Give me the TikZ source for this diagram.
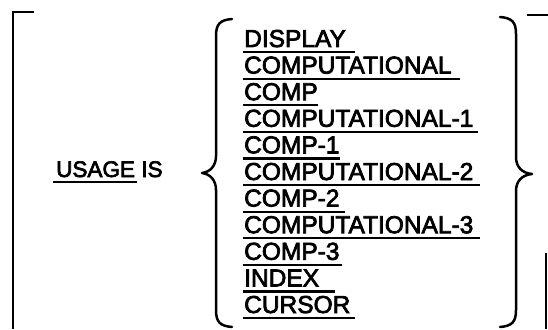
\documentclass[tikz,border=0pt]{standalone}
\usepackage{fontspec}
\newfontfamily\lfont{Liberation Sans}[FakeBold=3]
\begin{document}
\begin{tikzpicture}[x=1pt,y=-1pt,
  item/.style={font=\fontsize{24.5}{24.5}\selectfont\lfont, anchor=base west, inner sep=0pt},
  head/.style={font=\fontsize{22.5}{22.5}\selectfont\lfont, anchor=base west, inner sep=0pt},
  uline/.style={line width=2.2pt},
  bracestyle/.style={line width=2.5pt, line cap=round, line join=round},
  bracketstyle/.style={line width=2.5pt}]
\useasboundingbox (0,0) rectangle (548,329);
% left bracket
\coordinate (lbt) at (34,12);
\coordinate (lbc) at (13,12);
\coordinate (lbb) at (13,329);
\draw[bracketstyle] (lbt) -- (lbc) -- (lbb);
% right bracket
\coordinate (rbt) at (527,15);
\coordinate (rbc) at (548,15);
\draw[bracketstyle] (rbt) -- (rbc);
\coordinate (rvt) at (546,253);
\coordinate (rvb) at (546,329);
\draw[bracketstyle] (rvt) -- (rvb);
% USAGE IS
\node[head] (usage) at (56,177) {USAGE};
\node[head, anchor=base west] (is) at ([xshift=6pt]usage.base east) {IS};
\draw[uline] ([xshift=-3pt,yshift=-5pt]usage.base west) -- ([xshift=2pt,yshift=-5pt]usage.base east);
% left brace
\draw[bracestyle] (232,19) .. controls (220,20) and (216,24) .. (216,36)
  -- (216,156) .. controls (216,166) and (210,172) .. (202,173)
  .. controls (210,174) and (216,180) .. (216,190)
  -- (216,310) .. controls (216,322) and (220,326) .. (232,327);
% right brace
\draw[bracestyle] (500,17) .. controls (512,18) and (516,22) .. (516,34)
  -- (516,157) .. controls (516,167) and (522,173) .. (532,174)
  .. controls (522,175) and (516,181) .. (516,191)
  -- (516,310) .. controls (516,322) and (512,326) .. (500,327);
% list
\foreach \t/\u [count=\i] in {DISPLAY/112, COMPUTATIONAL/217, COMP/75, COMPUTATIONAL-1/235, COMP-1/97, COMPUTATIONAL-2/237, COMP-2/102, COMPUTATIONAL-3/237, COMP-3/99, INDEX/92, CURSOR/112}{
  \node[item] (n\i) at (244,{47+(\i-1)*26.6}) {\t};
  \draw[uline] ([xshift=-1pt,yshift=-5pt]n\i.base west) -- ++(\u,0);
}
\end{tikzpicture}
\end{document}
